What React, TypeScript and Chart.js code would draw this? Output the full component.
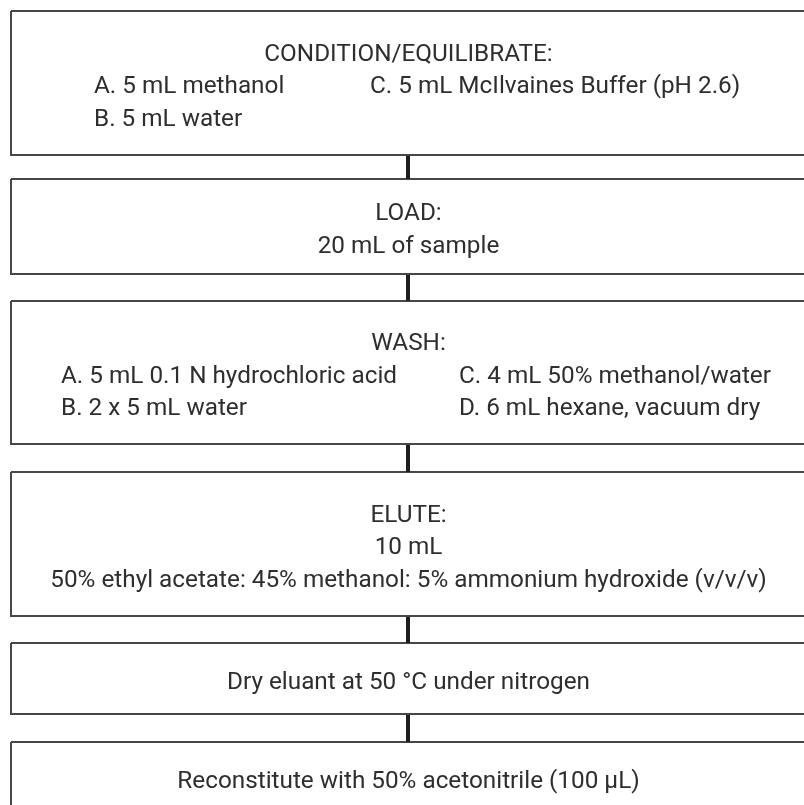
import React, { useEffect, useRef } from "react";
import { Chart, registerables } from "chart.js";

Chart.register(...registerables);

// ---- Flowchart content (data) ----
const stepTitles = [
  "CONDITION/EQUILIBRATE:",
  "LOAD:",
  "WASH:",
  "ELUTE:",
  "Dry eluant at 50 °C under nitrogen",
  "Reconstitute with 50% acetonitrile (100 µL)",
];
const stepDetails = [
  [],
  ["20 mL of sample"],
  [],
  ["10 mL", "50% ethyl acetate: 45% methanol: 5% ammonium hydroxide (v/v/v)"],
  [],
  [],
];
const stepLeftItems = [
  ["A. 5 mL methanol", "B. 5 mL water"],
  [],
  ["A. 5 mL 0.1 N hydrochloric acid", "B. 2 x 5 mL water"],
  [],
  [],
  [],
];
const stepRightItems = [
  ["C. 5 mL McIlvaines Buffer (pH 2.6)"],
  [],
  ["C. 4 mL 50% methanol/water", "D. 6 mL hexane, vacuum dry"],
  [],
  [],
  [],
];

// ---- Layout (page units on linear scales) ----
const W = 804;
const H = 805;
const BOX_LEFT = 11;
const BOX_RIGHT = 806;
const BOX_TOPS = [11, 179, 301, 472, 643, 742];
const BOX_BOTTOMS = [155, 274, 444, 616, 714, 813];
const COL_LEFT_X = [94, 0, 61, 0, 0, 0];
const COL_RIGHT_X = [370, 0, 459, 0, 0, 0];
const LINE_H = 32.5;
const CONNECTOR_X = 408;

const BORDER = "#474747";
const TEXT = "#2e2e2e";
const FONT = '400 24.3px Roboto, "Noto Sans", sans-serif';

export default function App() {
  const ref = useRef<HTMLCanvasElement | null>(null);

  useEffect(() => {
    const canvas = ref.current;
    if (!canvas) return;

    const datasets: any[] = [];
    BOX_TOPS.forEach((top, i) => {
      const bottom = BOX_BOTTOMS[i];
      datasets.push({
        label: "box" + i,
        data: [
          { x: BOX_LEFT, y: top },
          { x: BOX_RIGHT, y: top },
          { x: BOX_RIGHT, y: bottom },
          { x: BOX_LEFT, y: bottom },
          { x: BOX_LEFT, y: top },
        ],
        showLine: true,
        borderColor: BORDER,
        borderWidth: 2,
        borderJoinStyle: "miter",
        pointRadius: 0,
        pointHoverRadius: 0,
        fill: false,
        tension: 0,
      });
      if (i < BOX_TOPS.length - 1) {
        datasets.push({
          label: "link" + i,
          data: [
            { x: CONNECTOR_X, y: bottom },
            { x: CONNECTOR_X, y: BOX_TOPS[i + 1] },
          ],
          showLine: true,
          borderColor: "#1e1e1e",
          borderWidth: 4,
          borderCapStyle: "butt",
          pointRadius: 0,
          pointHoverRadius: 0,
          fill: false,
        });
      }
    });

    const textPlugin = {
      id: "flowText",
      afterDatasetsDraw(chart: any) {
        const { ctx, scales } = chart;
        const xs = scales.x;
        const ys = scales.y;
        ctx.save();
        ctx.font = FONT;
        ctx.fillStyle = TEXT;
        ctx.textBaseline = "alphabetic";
        stepTitles.forEach((title, i) => {
          const lines: { kind: string; a?: string; b?: string; t?: string }[] = [];
          lines.push({ kind: "c", t: title });
          stepDetails[i].forEach((d) => lines.push({ kind: "c", t: d }));
          const rows = Math.max(stepLeftItems[i].length, stepRightItems[i].length);
          for (let r = 0; r < rows; r++) {
            lines.push({ kind: "cols", a: stepLeftItems[i][r], b: stepRightItems[i][r] });
          }
          const center = (BOX_TOPS[i] + BOX_BOTTOMS[i]) / 2;
          const n = lines.length;
          lines.forEach((ln, k) => {
            const yc = center + (k - (n - 1) / 2) * LINE_H;
            const py = ys.getPixelForValue(yc) + 10;
            if (ln.kind === "c") {
              ctx.textAlign = "center";
              ctx.fillText(ln.t, xs.getPixelForValue((BOX_LEFT + BOX_RIGHT) / 2), py);
            } else {
              ctx.textAlign = "left";
              if (ln.a) ctx.fillText(ln.a, xs.getPixelForValue(COL_LEFT_X[i]), py);
              if (ln.b) ctx.fillText(ln.b, xs.getPixelForValue(COL_RIGHT_X[i]), py);
            }
          });
        });
        ctx.restore();
      },
    };

    const chart = new Chart(canvas, {
      type: "scatter",
      data: { datasets },
      options: {
        animation: false,
        responsive: false,
        maintainAspectRatio: false,
        layout: { padding: 0 },
        events: [],
        scales: {
          x: { type: "linear", min: 0, max: W, display: false },
          y: { type: "linear", min: 0, max: H, reverse: true, display: false },
        },
        plugins: {
          legend: { display: false },
          tooltip: { enabled: false },
          title: { display: false },
        },
      },
      plugins: [textPlugin],
    });
    return () => chart.destroy();
  }, []);

  return (
    <div style={{ position: "absolute", left: 0, top: 0, width: W, height: H, background: "#fff" }}>
      <canvas ref={ref} width={W} height={H} style={{ display: "block" }} />
    </div>
  );
}
